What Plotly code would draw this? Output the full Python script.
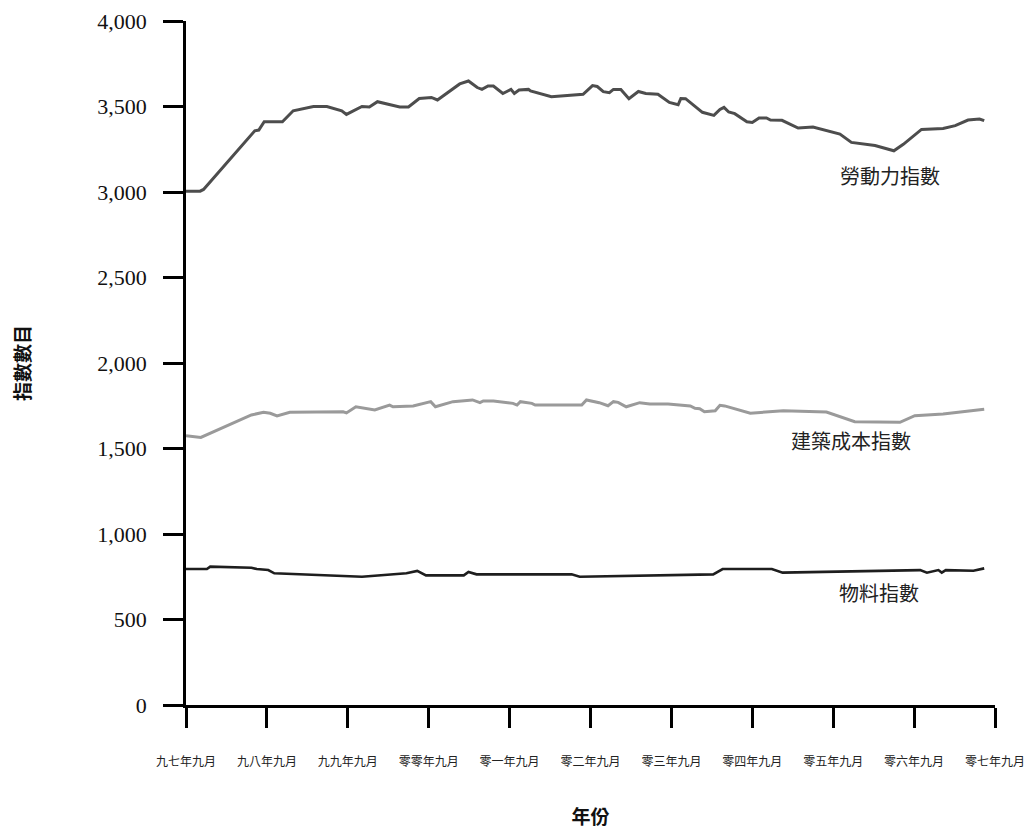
import plotly.graph_objects as go

# x = months since September 1997
tick_months = [0, 12, 24, 36, 48, 60, 72, 84, 96, 108, 120]
tick_labels = ["九七年九月", "九八年九月", "九九年九月", "零零年九月", "零一年九月",
               "零二年九月", "零三年九月", "零四年九月", "零五年九月", "零六年九月", "零七年九月"]

labour_x = [0, 2.1, 2.6, 10.2, 10.8, 11.6, 14.3, 15.9, 18.9, 20.9, 23.1, 23.8, 26.1, 27.2,
            28.4, 31.7, 33.0, 34.6, 36.4, 37.3, 40.6, 41.9, 43.2, 43.9, 44.8, 45.6, 47.0,
            48.2, 48.7, 49.4, 50.8, 51.1, 54.2, 58.9, 60.3, 61.0, 61.9, 62.8, 63.4, 64.5,
            65.7, 67.1, 68.2, 70.0, 71.7, 73.0, 73.4, 74.1, 76.6, 78.3, 79.2, 79.8, 80.5,
            81.4, 83.2, 84.0, 85.0, 86.1, 86.7, 88.4, 90.8, 93.0, 97.0, 98.7, 102.2, 105.0,
            106.4, 109.1, 112.3, 114.1, 116.0, 117.7, 118.4]
labour_y = [3005, 3005, 3015, 3358, 3362, 3411, 3411, 3475, 3500, 3500, 3475, 3454, 3500, 3497,
            3528, 3497, 3497, 3547, 3553, 3538, 3632, 3649, 3611, 3600, 3620, 3620, 3576,
            3600, 3576, 3596, 3600, 3591, 3557, 3571, 3622, 3617, 3587, 3581, 3600, 3600,
            3546, 3588, 3576, 3572, 3524, 3510, 3547, 3546, 3466, 3448, 3483, 3495, 3468,
            3458, 3411, 3407, 3433, 3433, 3421, 3419, 3374, 3380, 3339, 3290, 3272, 3241,
            3279, 3366, 3372, 3388, 3421, 3427, 3417]

build_x = [0, 2.2, 9.7, 11.5, 12.5, 13.5, 15.4, 23.3, 23.8, 25.2, 28.0, 30.2, 30.7, 33.7,
           36.3, 37.0, 39.6, 42.5, 43.6, 44.1, 45.6, 48.5, 49.1, 49.6, 51.3, 51.8, 58.7,
           59.4, 61.3, 62.6, 63.4, 64.1, 65.3, 67.3, 68.8, 71.5, 74.8, 75.5, 76.2, 76.9,
           78.5, 79.2, 79.9, 83.7, 88.6, 95.0, 99.2, 105.9, 108.1, 112.3, 118.4]
build_y = [1575, 1565, 1696, 1712, 1706, 1690, 1712, 1715, 1708, 1744, 1725, 1754, 1744, 1749,
           1774, 1744, 1774, 1784, 1768, 1778, 1778, 1764, 1754, 1774, 1764, 1754, 1754,
           1784, 1768, 1750, 1774, 1770, 1744, 1768, 1760, 1760, 1749, 1735, 1733, 1715,
           1721, 1753, 1749, 1706, 1721, 1713, 1657, 1653, 1692, 1702, 1729]

material_x = [0, 3.1, 3.6, 9.7, 10.5, 12.2, 13.1, 26.1, 32.7, 34.3, 35.6, 41.2, 41.9, 43.1,
              57.2, 58.4, 78.2, 79.6, 86.9, 88.5, 108.9, 109.9, 111.6, 112.1, 112.7, 116.8, 118.4]
material_y = [795, 795, 809, 803, 795, 789, 770, 750, 770, 784, 758, 758, 778, 764,
              764, 750, 764, 795, 795, 774, 789, 774, 789, 774, 789, 785, 799]

series_names = ["勞動力指數", "建築成本指數", "物料指數"]

fig = go.Figure()
fig.add_trace(go.Scatter(x=labour_x, y=labour_y, mode="lines", name=series_names[0],
                         line=dict(color="#4d4d4d", width=3)))
fig.add_trace(go.Scatter(x=build_x, y=build_y, mode="lines", name=series_names[1],
                         line=dict(color="#9a9a9a", width=3)))
fig.add_trace(go.Scatter(x=material_x, y=material_y, mode="lines", name=series_names[2],
                         line=dict(color="#1e1e1e", width=2.6)))

label_font = dict(family="Noto Sans CJK TC", size=20, color="#222222")
fig.add_annotation(x=104.4, y=3099, xref="x", yref="y", text=series_names[0],
                   showarrow=False, font=label_font)
fig.add_annotation(x=98.6, y=1544, xref="x", yref="y", text=series_names[1],
                   showarrow=False, font=label_font)
fig.add_annotation(x=102.8, y=659, xref="x", yref="y", text=series_names[2],
                   showarrow=False, font=label_font)

fig.update_layout(
    width=1025, height=829,
    margin=dict(l=186, r=30, t=21, b=124),
    paper_bgcolor="white", plot_bgcolor="white",
    showlegend=False,
    xaxis=dict(
        range=[0, 120], tickmode="array", tickvals=tick_months, ticktext=tick_labels,
        automargin=False, ticklabeloverflow="allow",
        showgrid=False, zeroline=False, showline=True, linecolor="black", linewidth=2.5,
        ticks="outside", ticklen=20, tickwidth=2.5, tickcolor="black",
        ticklabelstandoff=24,
        tickfont=dict(family="Noto Sans CJK TC", size=12, color="#222222"),
        title=dict(text="<b>年份</b>", standoff=44,
                   font=dict(family="Noto Sans CJK TC", size=19, color="#111111")),
    ),
    yaxis=dict(
        range=[0, 4000], tickmode="array", tickvals=[0, 500, 1000, 1500, 2000, 2500, 3000, 3500, 4000],
        automargin=False,
        tickformat=",", showgrid=False, zeroline=False, showline=True, linecolor="black",
        linewidth=2.5, ticks="outside", ticklen=20, tickwidth=2.5, tickcolor="black",
        ticklabelstandoff=12,
        tickfont=dict(family="Liberation Serif", size=22, color="#111111"),
        title=dict(text="<b>指數數目</b>", standoff=62,
                   font=dict(family="Noto Sans CJK TC", size=19, color="#111111")),
    ),
)

fig.write_html("out.html", config={"displayModeBar": False},
               post_script="document.body.style.margin='0px';document.body.style.overflow='hidden';")
